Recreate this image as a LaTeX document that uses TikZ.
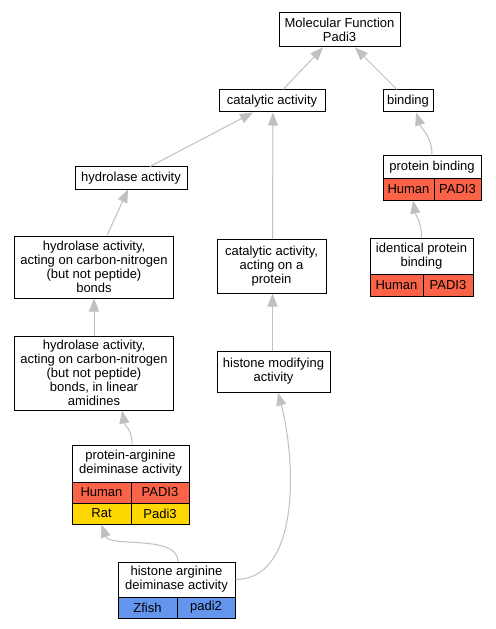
\documentclass[tikz,border=0pt]{standalone}
\usepackage{fontspec}
\setmainfont{Liberation Sans}
\usetikzlibrary{arrows.meta}
\definecolor{cred}{RGB}{250,99,71}
\definecolor{cyel}{RGB}{255,215,0}
\definecolor{cblue}{RGB}{100,149,237}
\definecolor{cedge}{RGB}{192,192,192}
\begin{document}
\begin{tikzpicture}[x=1bp,y=-1bp,
  box/.style={draw=black, line width=1bp, fill=white, align=center, inner sep=0pt,
    font=\fontsize{13bp}{14bp}\selectfont},
  cellr/.style={box, fill=cred},
  celly/.style={box, fill=cyel},
  cellb/.style={box, fill=cblue},
  edge/.style={draw=cedge, line width=1bp, -{Triangle[length=13bp,width=10bp,fill=cedge]}}]
\useasboundingbox[fill=white] (0,0) rectangle (496,629);

% nodes
\node[box, minimum width=121bp, minimum height=34bp] (mf) at (339.5,30) {Molecular Function\\Padi3};
\node[box, minimum width=106bp, minimum height=22bp] (cat) at (272,101) {catalytic activity};
\node[box, minimum width=50bp, minimum height=22bp] (bind) at (408,101) {binding};
\node[box, minimum width=112bp, minimum height=22bp] (hydro) at (131,178) {hydrolase activity};

\node[box, minimum width=98bp, minimum height=23bp] (pb) at (432,167.5) {protein binding};
\node[cellr, minimum width=51bp, minimum height=21bp] (pbh) at (408.5,189.5) {Human};
\node[cellr, minimum width=47bp, minimum height=21bp] (pbp) at (457.5,189.5) {PADI3};

\node[box, minimum width=158bp, minimum height=62bp] (cn) at (94,267) {hydrolase activity,\\acting on carbon-nitrogen\\(but not peptide)\\bonds};
\node[box, minimum width=109bp, minimum height=54bp] (cp) at (271.5,266) {catalytic activity,\\acting on a\\protein};

\node[box, minimum width=103bp, minimum height=36bp] (ipb) at (421.5,256) {identical protein\\binding};
\node[cellr, minimum width=53bp, minimum height=22bp] (ipbh) at (396.5,285) {Human};
\node[cellr, minimum width=50bp, minimum height=22bp] (ipbp) at (448,285) {PADI3};

\node[box, minimum width=158bp, minimum height=74bp] (am) at (94,373) {hydrolase activity,\\acting on carbon-nitrogen\\(but not peptide)\\bonds, in linear\\amidines};
\node[box, minimum width=113bp, minimum height=41bp] (hm) at (273.5,371.5) {histone modifying\\activity};

\node[box, minimum width=117bp, minimum height=37bp] (pad) at (130.5,463.5) {protein-arginine\\deiminase activity};
\node[cellr, minimum width=59bp, minimum height=21bp] (padh) at (101.5,492.5) {Human};
\node[cellr, minimum width=58bp, minimum height=21bp] (padp) at (160,492.5) {PADI3};
\node[celly, minimum width=59bp, minimum height=21bp] (padr) at (101.5,513.5) {Rat};
\node[celly, minimum width=58bp, minimum height=21bp] (padq) at (160,513.5) {Padi3};

\node[box, minimum width=117bp, minimum height=35bp] (ha) at (176.5,579.5) {histone arginine\\deiminase activity};
\node[cellb, minimum width=59bp, minimum height=21bp] (haz) at (147.5,607.5) {Zfish};
\node[cellb, minimum width=58bp, minimum height=21bp] (hap) at (206,607.5) {padi2};

% edges
\draw[edge] ([xshift=11bp]cat.north) -- ([xshift=-16.5bp]mf.south);
\draw[edge] ([xshift=-11bp]bind.north) -- ([xshift=15.5bp]mf.south);
\draw[edge] ([xshift=19bp]hydro.north) -- ([xshift=-19bp]cat.south);
\draw[edge] ([xshift=1bp]cp.north) -- ([xshift=1bp]cat.south);
\draw[edge] (pb.north) .. controls +(0,-20) and +(6,18) .. ([xshift=8bp]bind.south);
\draw[edge] (ipb.north) .. controls +(0,-16) and +(3,16) .. ([xshift=4.5bp]pbh.south);
\draw[edge] ([xshift=13bp]cn.north) -- ([xshift=-3bp]hydro.south);
\draw[edge] (am.north) -- (cn.south);
\draw[edge] ([xshift=-1bp]hm.north) -- ([xshift=1bp]cp.south);
\draw[edge] ([xshift=1.5bp]pad.north) .. controls +(0,-16) and +(3,16) .. ([xshift=28bp]am.south);
\draw[edge] ([xshift=1.5bp]ha.north) .. controls +(0,-27) and +(8,23) .. (padr.south);
\draw[edge] (ha.east) .. controls +(65,0) and +(18,68) .. ([xshift=4.5bp]hm.south);
\end{tikzpicture}
\end{document}
